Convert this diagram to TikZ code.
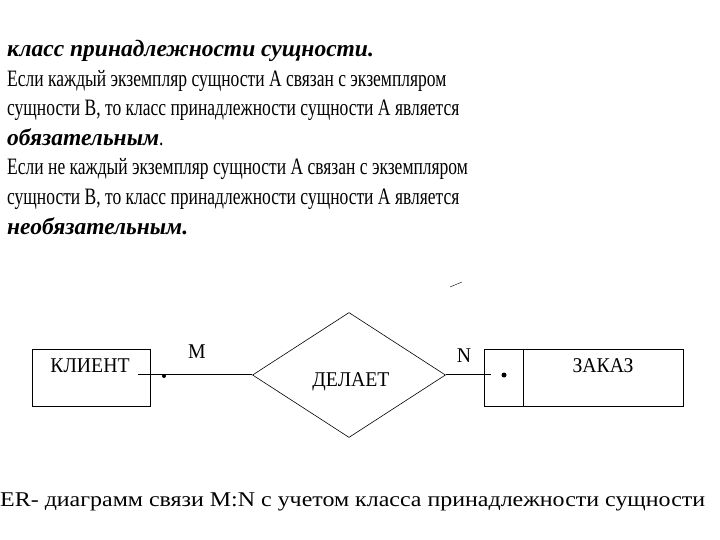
\documentclass[tikz,border=0pt]{standalone}
\usepackage{fontspec}
\setmainfont[FakeStretch=0.745]{Liberation Serif}
\newfontfamily\emfont[FakeStretch=1.0]{Liberation Serif}
\newfontfamily\labelfont[FakeStretch=0.94]{Liberation Serif}
\newfontfamily\capfont[FakeStretch=1.14]{Liberation Serif}
\newcommand{\bi}[1]{{\emfont\bfseries\itshape #1}}
\usetikzlibrary{positioning,shapes.geometric,calc}
\tikzset{
  body/.style={anchor=base west, inner sep=0pt, font=\fontsize{23.5}{30}\selectfont},
  entity/.style={draw, thick, inner sep=0pt, minimum height=57pt},
  rel/.style={draw, semithick, diamond, inner sep=0pt, minimum width=193pt, minimum height=125pt},
  ename/.style={anchor=base, inner sep=0pt, font=\labelfont\fontsize{21}{24}\selectfont},
  pt/.style={circle, fill, inner sep=0pt, minimum size=5pt},
  ln/.style={semithick},
}
\begin{document}
\begin{tikzpicture}[x=1pt, y=-1pt]
\useasboundingbox (0,0) rectangle (720,540);

% text above the diagram
\foreach \txt [count=\i from 0] in {
  {\bi{класс принадлежности сущности.}},
  {Если каждый экземпляр сущности А связан с экземпляром},
  {сущности В, то класс принадлежности сущности А является},
  {\bi{обязательным}.},
  {Если не каждый экземпляр сущности А связан с экземпляром},
  {сущности В, то класс принадлежности сущности А является},
  {\bi{необязательным.}}}
  \node[body] (line\i) at (7,{57+29.5*\i}) {\txt};

% entities and relationship
\node[entity, minimum width=118pt] (klient) at (91,377.5) {};
\node[ename] (klientname) at (90,372) {КЛИЕНТ};
\node[rel] (delaet) at (349,375) {};
\node[ename] (delaetname) at (351,386) {ДЕЛАЕТ};
\node[entity, minimum width=199pt] (zakaz) at (583.5,377.5) {};
\node[ename] (zakazname) at (603,372) {ЗАКАЗ};
\draw[thick] ($(zakaz.north west)+(40,0)$) -- ($(zakaz.south west)+(40,0)$);

\coordinate (klout) at (138,374);
\coordinate (zkin) at (491,374);
\draw[ln] (klout) -- (klout -| delaet.west);
\draw[ln] (zkin -| delaet.east) -- (zkin);
\node[pt, minimum size=4pt] (kldot) at (164,376) {};
\node[pt] (zkdot) at (504,375) {};

\node[ename] (m) at (197,358) {M};
\node[ename] (n) at (464,362) {N};

% stray mark
\draw (450,287) -- (462,282);

\node[body, font=\capfont\fontsize{21}{26}\selectfont] (caption) at (0,506)
  {ER- диаграмм связи M:N с учетом класса принадлежности сущности};
\end{tikzpicture}
\end{document}
